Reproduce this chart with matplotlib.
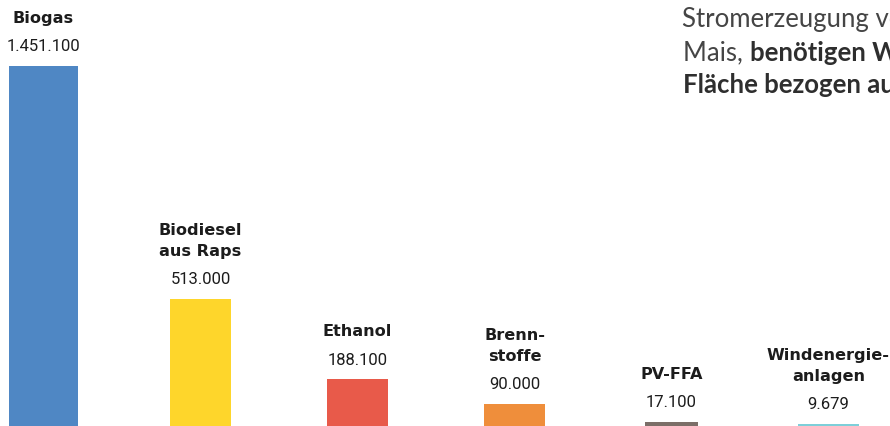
import matplotlib
matplotlib.use('Agg')
import matplotlib.pyplot as plt
import numpy as np

# Flächenbedarf (Werte wie in der Grafik)
names = ['Biogas', 'Biodiesel\naus Raps', 'Ethanol', 'Brenn-\nstoffe', 'PV-FFA', 'Windenergie-\nanlagen']
values = [1451100, 513000, 188100, 90000, 17100, 9679]
value_labels = ['1.451.100', '513.000', '188.100', '90.000', '17.100', '9.679']

colors = ['#4f87c4', '#fed62b', '#e85a4a', '#ef8e3b', '#7b6e68', '#7dcfd9']
widths = [0.44, 0.39, 0.39, 0.39, 0.34, 0.39]

TXT = '#1c1c1c'
PX = 0.72  # px -> pt at dpi 100

fig = plt.figure(figsize=(8.9, 4.27), dpi=100)
ax = fig.add_axes([0, 0, 1, 1])
ax.axis('off')

step = 157.0
ax.set_xlim(-43.5 / step, (890 - 43.5) / step)
ax.set_ylim(0, 1451100 * 427 / 360)

x = np.arange(len(values))
ax.bar(x, values, width=widths, color=colors, linewidth=0)

for xi, v, n, lab in zip(x, values, names, value_labels):
    ax.annotate(lab, xy=(xi, v), xytext=(0, 15.5 * PX), textcoords='offset points',
                ha='center', va='baseline', fontsize=12, color=TXT, family='Roboto')
    lines = n.split('\n')
    for k, line in enumerate(reversed(lines)):
        ax.annotate(line, xy=(xi, v), xytext=(0, (44 + 20.5 * k) * PX),
                    textcoords='offset points', ha='center', va='baseline',
                    fontsize=11.6, fontweight='bold', color=TXT, family='DejaVu Sans')

# Fließtext oben rechts (vom Bildrand abgeschnitten)
W, H = 890.0, 427.0
fs = 18.5
grey = '#454545'
dark = '#2e2e2e'
fig.text(682 / W, (H - 27) / H, 'Stromerzeugung von', fontsize=fs, color=grey,
         family='Lato', va='baseline')
t2 = fig.text(683 / W, (H - 60) / H, 'Mais, ', fontsize=fs, color=grey,
              family='Lato', va='baseline')
ax.annotate('benötigen Windenergieanlagen', xy=(1, 0), xycoords=t2, va='bottom',
            fontsize=fs, color=dark, family='Lato', fontweight='bold',
            annotation_clip=False)
fig.text(683 / W, (H - 93) / H, 'Fläche bezogen auf', fontsize=fs, color=dark,
         family='Lato', fontweight='bold', va='baseline')

fig.savefig('out.png', dpi=100)
